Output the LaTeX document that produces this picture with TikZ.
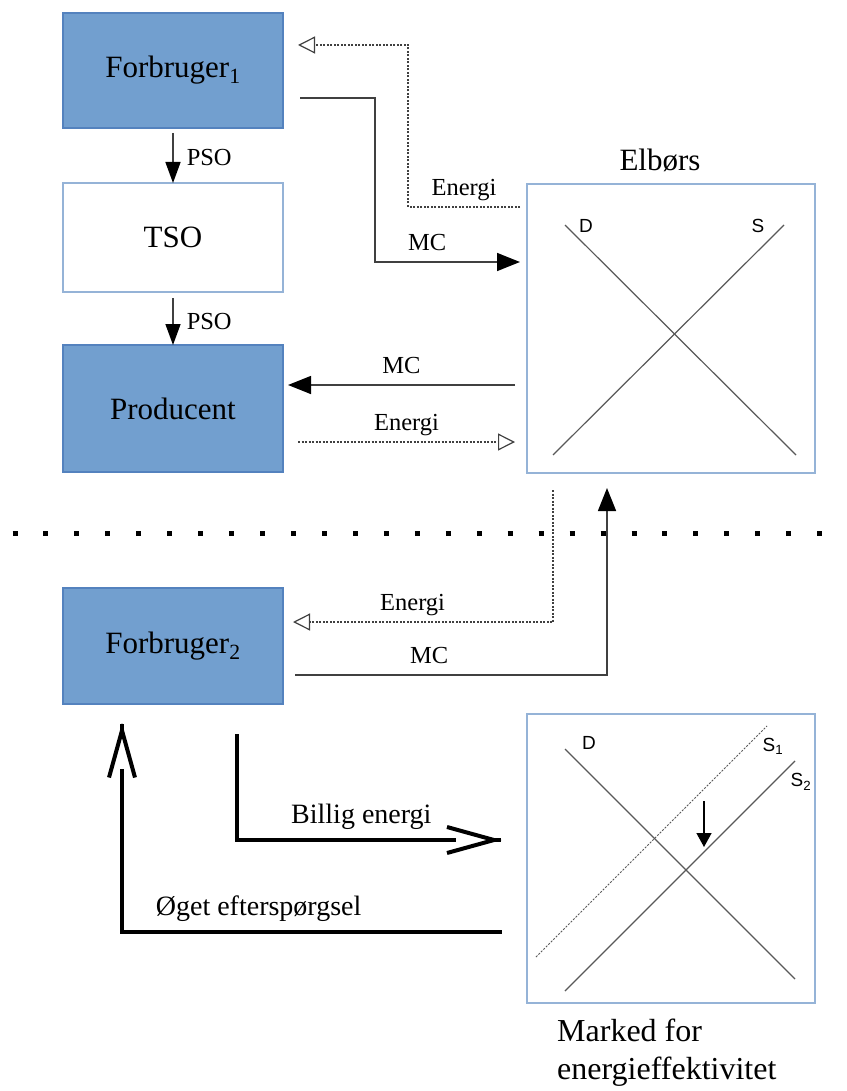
\documentclass[tikz,border=0pt]{standalone}
\usepackage{fontspec}
\setmainfont{Liberation Serif}
\newfontfamily\chartfont{Liberation Sans}
\usetikzlibrary{arrows.meta,positioning}

\definecolor{boxfill}{RGB}{114,159,207}
\definecolor{boxline}{RGB}{84,130,190}
\definecolor{frameline}{RGB}{149,179,215}
\definecolor{wire}{RGB}{64,64,64}

\begin{document}
\begin{tikzpicture}[
    x=1pt, y=-1pt,
    box/.style={rectangle, draw=boxline, line width=1.2pt, outer sep=0pt, fill=boxfill, minimum width=220pt, minimum height=115pt, font=\fontsize{31}{36}\selectfont},
    whitebox/.style={box, draw=frameline, fill=white},
    market/.style={rectangle, draw=frameline, line width=2pt, outer sep=0pt, fill=white, minimum width=288pt, minimum height=289pt, inner sep=0pt},
    title/.style={font=\fontsize{31}{36}\selectfont, inner sep=2pt},
    small/.style={font=\fontsize{24.5}{28}\selectfont, inner sep=2pt, text depth=5pt},
    big/.style={font=\fontsize{28}{32}\selectfont, inner sep=2pt, text depth=6pt},
    curvelabel/.style={font=\chartfont\fontsize{19}{21}\selectfont, inner sep=1pt},
    arrow/.style={draw=wire, line width=1.5pt, -{Triangle[length=23pt,width=18pt,color=black]}},
    pso/.style={draw=wire, line width=1.5pt, -{Triangle[length=21pt,width=15pt,color=black]}},
    energy/.style={draw=wire, line width=1.2pt, dash pattern=on 2pt off 1.5pt, -{Triangle[open,length=17pt,width=17pt,fill=white]}},
    thickline/.style={line width=4pt, shorten >=46pt},
    barb/.style={line width=4pt, -{Straight Barb[length=47pt,width=26pt]}},
    curve/.style={draw=black!65, line width=1.2pt},
    divider/.style={line width=5pt, dash pattern=on 5pt off 25.95pt}
]
\useasboundingbox (0,0) rectangle (846,1091);

% Nodes
\node[box] (forbruger1) at (173,70.5) {Forbruger\textsubscript{1}};
\node[whitebox, below=55pt of forbruger1, minimum height=109pt] (tso) {TSO};
\node[box, below=53pt of tso, minimum height=127pt] (producent) {Producent};
\node[box, minimum width=220pt, minimum height=116pt] (forbruger2) at (173,646) {Forbruger\textsubscript{2}};

\node[market] (elboers) at (671,328.5) {};
\node[title, above=10pt of elboers, xshift=-11pt] (elboerstitle) {Elbørs};
\node[market] (marked) at (670.5,858.5) {};
\node[title, font=\fontsize{32}{38}\selectfont, align=left, anchor=north west, inner sep=0pt] (markedtitle) at (557,1019) {Marked for\\energieffektivitet};

\coordinate (billigend) at ([shift={(-25pt,18.5pt)}]marked.west);
\coordinate (ogetend) at ([shift={(59pt,-19pt)}]forbruger2.south west);

% Arrows
\draw[pso] ([yshift=-5pt]forbruger1.south) -- (tso.north) node[midway, right=11pt, font=\fontsize{24.5}{28}\selectfont, inner sep=2pt] {PSO};
\draw[pso] ([yshift=-6pt]tso.south) -- (producent.north) node[midway, right=11pt, font=\fontsize{24.5}{28}\selectfont, inner sep=2pt] {PSO};

\draw[energy] ([shift={(-7pt,-23pt)}]elboers.north west) -- node[small, above=4pt] {Energi} ++(-112,0) |- ([shift={(15pt,25.5pt)}]forbruger1.east);
\draw[arrow] ([shift={(17pt,-27.5pt)}]forbruger1.east) -- ++(75,0) |- node[small, above=4pt, pos=0.68] {MC} ([shift={(-7pt,66.5pt)}]elboers.west);

\draw[arrow] ([shift={(-12pt,-56.5pt)}]elboers.west) -- node[small, above=4pt] {MC} ([shift={(5pt,23.5pt)}]producent.east);
\draw[energy] ([shift={(15pt,-33.5pt)}]producent.east) -- node[small, above=4pt] {Energi} ([shift={(-12pt,-113.5pt)}]elboers.west);

\draw[divider] (12.5,533) -- (823,533);

\draw[energy] ([shift={(26pt,-17pt)}]elboers.south west) |- node[small, above=4pt, pos=0.77] {Energi} ([shift={(10pt,24pt)}]forbruger2.east);
\draw[arrow] ([shift={(12pt,-29pt)}]forbruger2.east) -| node[small, above=4pt, pos=0.215] {MC} ([shift={(-64pt,-15pt)}]elboers.south);

\draw[thickline] ([shift={(64pt,-30pt)}]forbruger2.south) |- node[big, above=7pt, pos=0.735] {Billig energi} (billigend);
\draw[barb] ([xshift=-1pt]billigend) -- (billigend);
\draw[thickline] ([shift={(-25pt,-73.5pt)}]marked.west) -| node[big, above=7pt, pos=0.32] {Øget efterspørgsel} (ogetend);
\draw[barb] ([yshift=-1pt]ogetend) -- (ogetend);

% Curves
\draw[curve] (565,225) -- (796,455);
\draw[curve] (553,455) -- (784,225);
\node[curvelabel] (d1) at (586,226) {D};
\node[curvelabel] (s1) at (758,226) {S};

\draw[curve] (565,749) -- (795,979);
\draw[curve, dash pattern=on 2pt off 1.5pt, line width=1pt] (536,957) -- (767,726);
\draw[curve] (565,991) -- (795,761);
\node[curvelabel] (d2) at (589,743) {D};
\node[curvelabel] (s1b) at (773,746) {S\textsubscript{1}};
\node[curvelabel] (s2b) at (801,782) {S\textsubscript{2}};
\draw[line width=1.5pt, -{Triangle[length=14pt,width=15pt]}] (704,801) -- (704,847);

\end{tikzpicture}
\end{document}
